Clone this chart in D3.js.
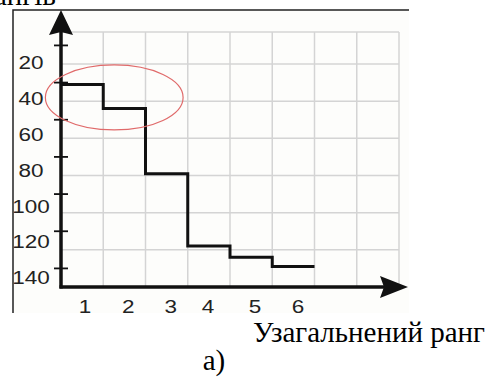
<!DOCTYPE html>
<html>
<head>
<meta charset="utf-8">
<script src="https://cdn.jsdelivr.net/npm/d3@7"></script>
<style>
  body { margin: 0; background: #fff; }
  svg { display: block; }
  .num { font-family: "Liberation Sans", Arial, sans-serif; font-size: 18px; fill: #222; }
  .cap { font-family: "Liberation Serif", "Times New Roman", serif; font-size: 29px; fill: #000; }
</style>
</head>
<body>
<svg id="chart" width="488" height="379"></svg>
<script>
// step values (sum of ranks) for each generalized rank
const ranks = [1, 2, 3, 4, 5, 6];
const values = [31, 44, 79, 118, 124, 129];
const yTickLabels = [20, 40, 60, 80, 100, 120, 140];
const yMinorTicks = [10, 30, 50, 70, 90, 110, 130];
const gridCols = [1, 2, 3, 4, 5, 6, 7, 8];

const svg = d3.select("#chart");

const x = d3.scaleLinear().domain([0, 8]).range([61, 399]);
const y = d3.scaleLinear().domain([20, 140]).range([64, 287]);
// labels sit a bit higher than the grid lines in the original
const yLab = d3.scaleLinear().domain([20, 140]).range([63, 278]);
const gridTop = 32;

// plot frame (only left and top edges show)
svg.append("rect").attr("x", 13).attr("y", 10).attr("width", 396).attr("height", 303)
  .attr("fill", "#fdfdfb");
svg.append("path").attr("d", "M13,313 L13,10 L409,10")
  .attr("fill", "none").attr("stroke", "#222").attr("stroke-width", 1.5);

// grid
const grid = svg.append("g").attr("stroke", "#d4d4d4").attr("stroke-width", 1.5);
grid.selectAll("line.h").data(yTickLabels.slice(0, -1)).enter().append("line")
  .attr("x1", x(0)).attr("x2", x(8)).attr("y1", d => y(d)).attr("y2", d => y(d));
grid.append("line").attr("x1", x(0)).attr("x2", x(8)).attr("y1", gridTop).attr("y2", gridTop);
grid.selectAll("line.v").data(gridCols).enter().append("line")
  .attr("x1", d => x(d)).attr("x2", d => x(d)).attr("y1", gridTop).attr("y2", y(140));

// step line
const pts = [];
values.forEach((v, i) => {
  pts.push([x(i), y(v)]);
  pts.push([x(i + 1), y(v)]);
});
svg.append("path").attr("d", d3.line()(pts))
  .attr("fill", "none").attr("stroke", "#111").attr("stroke-width", 3);

// y axis with small ticks
const y0 = y(140);
svg.selectAll("line.mt").data(yMinorTicks).enter().append("line")
  .attr("x1", 54).attr("x2", 68).attr("y1", d => y(d)).attr("y2", d => y(d))
  .attr("stroke", "#111").attr("stroke-width", 1.8);
svg.append("line").attr("x1", x(0)).attr("x2", x(0)).attr("y1", y0 + 1.5).attr("y2", 30)
  .attr("stroke", "#111").attr("stroke-width", 3.5);
svg.append("path").attr("d", "M61,10 L73,35 L61,32 L49,35 Z").attr("fill", "#111");

// x axis
svg.append("line").attr("x1", x(0) - 1.5).attr("x2", 390).attr("y1", y0).attr("y2", y0)
  .attr("stroke", "#111").attr("stroke-width", 3.5);
svg.append("path").attr("d", `M408,${y0} L380,${y0 - 11} L384,${y0} L380,${y0 + 11} Z`).attr("fill", "#111");

// y labels
svg.selectAll("text.yl").data(yTickLabels).enter().append("text")
  .attr("class", "num")
  .attr("text-anchor", "middle")
  .attr("dominant-baseline", "central")
  .attr("transform", d => `translate(31,${yLab(d)}) scale(1.25,1)`)
  .text(d => d);

// x labels
const xLabPos = [0.57, 1.59, 2.6, 3.48, 4.59, 5.61];
svg.selectAll("text.xl").data(ranks).enter().append("text")
  .attr("class", "num")
  .attr("text-anchor", "middle")
  .attr("transform", (d, i) => `translate(${x(xLabPos[i])},313) scale(1.25,1)`)
  .text(d => d);

// red ellipse highlighting the first two ranks
const ell = { cx: 1.26, cy: 38, rx: 1.63, ry: 17.5 };
svg.append("ellipse")
  .attr("cx", x(ell.cx)).attr("cy", y(ell.cy))
  .attr("rx", x(ell.rx) - x(0)).attr("ry", y(20 + ell.ry) - y(20))
  .attr("fill", "none").attr("stroke", "#e06a6a").attr("stroke-width", 1.2);

// captions
svg.append("text").attr("class", "cap").attr("x", 56).attr("y", 5)
  .attr("text-anchor", "end").text("Сума рангів");
svg.append("text").attr("class", "cap").attr("x", 485).attr("y", 342)
  .attr("text-anchor", "end").text("Узагальнений ранг");
svg.append("text").attr("class", "cap").attr("x", 214).attr("y", 370)
  .attr("text-anchor", "middle").text("а)");
</script>
</body>
</html>
